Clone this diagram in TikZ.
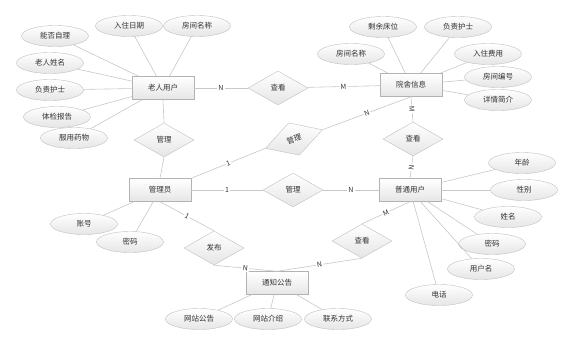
\documentclass[tikz,border=0pt]{standalone}
\usepackage{fontspec}
\setmainfont{Noto Sans CJK SC}
\usetikzlibrary{shapes.geometric}
\tikzset{
  entity/.style={draw=black!30, top color=white, bottom color=black!10, minimum width=62pt, minimum height=23pt, inner sep=0pt, text=black!80},
  attr/.style={ellipse, draw=black!25, top color=white, bottom color=black!10, minimum width=67pt, minimum height=21pt, inner sep=0pt, text=black!80},
  relation/.style={diamond, draw=black!25, top color=white, bottom color=black!10, minimum width=60pt, minimum height=34pt, inner sep=0pt, text=black!80},
  link/.style={draw=black!22, line width=0.6pt},
  card/.style={fill=white, inner sep=1pt, sloped, text=black!80, font=\fontsize{7}{8}\selectfont}
}

\begin{document}
\begin{tikzpicture}[x=1pt, y=-1pt, font=\fontsize{7.5}{9}\selectfont]
  \useasboundingbox (0,0) rectangle (575,346);
  % entities
  \node[entity] (elder)  at (163,88)  {老人用户};
  \node[entity] (room)   at (411,85)  {院舍信息};
  \node[entity] (admin)  at (160,190) {管理员};
  \node[entity] (user)   at (410,190) {普通用户};
  \node[entity] (notice) at (277,283) {通知公告};
  % relations
  \node[relation] (view1)   at (278,88)  {查看};
  \node[relation] (manage1) at (164,140) {管理};
  \node[relation, rotate=18] (manage2) at (294,139) {管理};
  \node[relation] (view2)   at (413,139) {查看};
  \node[relation] (manage3) at (293,190) {管理};
  \node[relation] (publish) at (214,248) {发布};
  \node[relation] (view3)   at (362,241) {查看};
  % attributes
  \foreach \name/\x/\y/\txt in {ea/55/36/能否自理, eb/129/26/入住日期, ec/197/26/房间名称,
      ed/50/63/老人姓名, ee/50/90/负责护士, ef/57/117/体检报告, eg/74/138/服用药物} {
    \node[attr] (\name) at (\x,\y) {\txt};
    \draw[link] (\name) -- (elder);
  }
  \foreach \name/\x/\y/\txt in {ra/383/27/剩余床位, rb/458/27/负责护士, rc/351/54/房间名称,
      rd/488/54/入住费用, re/498/77/房间编号, rf/498/100/详情简介} {
    \node[attr] (\name) at (\x,\y) {\txt};
    \draw[link] (\name) -- (room);
  }
  \foreach \name/\x/\y/\txt in {ua/522/163/年龄, ub/524/190/性别, uc/508/217/姓名,
      ud/492/244/密码, ue/481/269/用户名, uf/439/295/电话} {
    \node[attr] (\name) at (\x,\y) {\txt};
    \draw[link] (\name) -- (user);
  }
  \foreach \name/\x/\y/\txt in {aa/84/224/账号, ab/130/242/密码} {
    \node[attr] (\name) at (\x,\y) {\txt};
    \draw[link] (\name) -- (admin);
  }
  \foreach \name/\x/\y/\txt in {na/199/319/网站公告, nb/268/319/网站介绍, nc/338/319/联系方式} {
    \node[attr] (\name) at (\x,\y) {\txt};
    \draw[link] (\name) -- (notice);
  }
  % relation links
  \draw[link] (elder) -- node[card] {N} (view1);
  \draw[link] (view1) -- node[card] {M} (room);
  \draw[link] (elder.south) -- (manage1.north);
  \draw[link] (manage1.south) -- (admin.north);
  \draw[link] (admin.north east) -- node[card] {1} (manage2.west);
  \draw[link] (manage2.east) -- node[card] {N} (room.south);
  \draw[link] (room.south) -- node[card] {M} (view2.north);
  \draw[link] (view2.south) -- node[card] {N} (user.north);
  \draw[link] (admin) -- node[card] {1} (manage3);
  \draw[link] (manage3) -- node[card] {N} (user);
  \draw[link] (admin.south) -- node[card] {1} (publish.north);
  \draw[link] (publish.south) -- node[card] {N} (notice.north);
  \draw[link] (user.south) -- node[card] {M} (view3.north);
  \draw[link] (view3.south) -- node[card] {N} (notice.north);
\end{tikzpicture}
\end{document}
